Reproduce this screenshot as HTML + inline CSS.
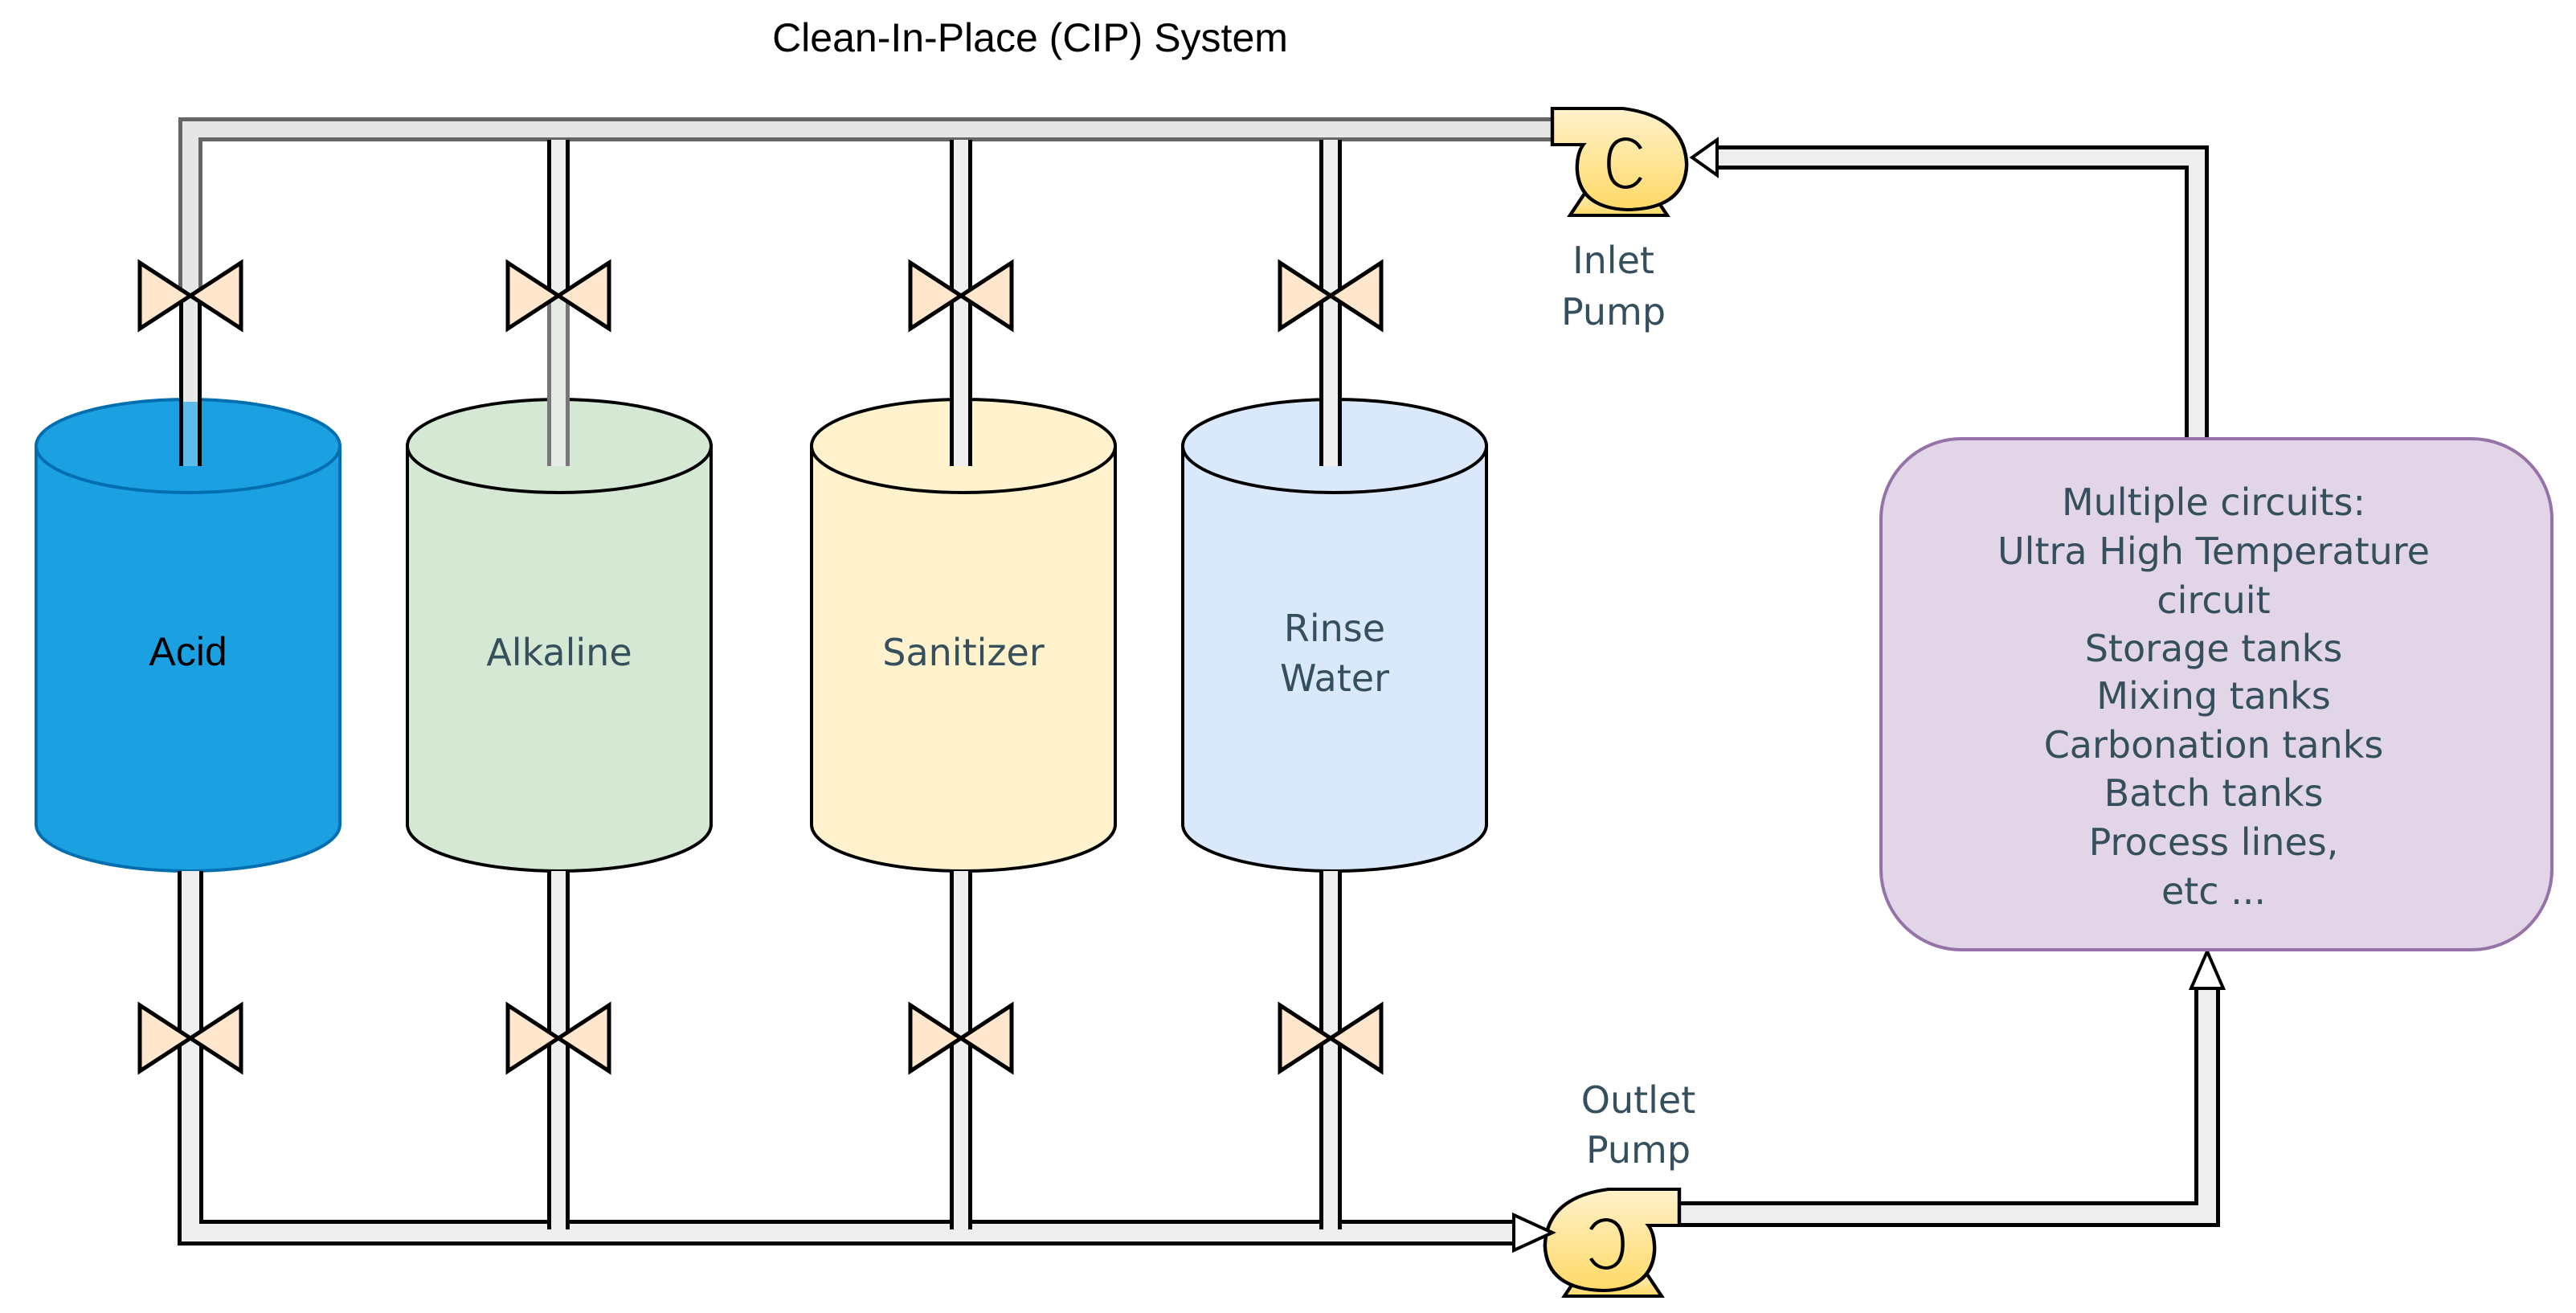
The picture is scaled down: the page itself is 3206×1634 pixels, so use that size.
<!DOCTYPE html>
<html><head><meta charset="utf-8"><style>html,body{margin:0;padding:0;background:#fff;}svg{display:block}</style></head>
<body>
<svg width="3206" height="1634" viewBox="0 0 3206 1634" xmlns="http://www.w3.org/2000/svg">
<defs>
<linearGradient id="pg" x1="0" y1="0" x2="0" y2="1"><stop offset="0" stop-color="#fff2cc"/><stop offset="1" stop-color="#ffd966"/></linearGradient>
<g id="valve"><polygon points="-63,-41 0,0 -63,41" fill="#ffe6cc" stroke="#000" stroke-width="5"/><polygon points="63,-41 0,0 63,41" fill="#ffe6cc" stroke="#000" stroke-width="5"/></g>
<g id="pump">
<path d="M110,100 L130,133 L20,133 L40,100 Z" fill="url(#pg)" stroke="#000" stroke-width="4"/>
<path d="M0,0 L80,0 Q150,10 152,70 Q150,125 85,126 Q30,124 28,75 Q28,55 35,45 L0,45 Z" fill="url(#pg)" stroke="#000" stroke-width="4"/>
<path d="M100,50 Q94,38 82,38 Q64,40 64,68 Q64,96 82,98 Q94,98 100,86" fill="none" stroke="#000" stroke-width="4"/>
</g>
</defs>
<text x="1282" y="64" font-family="Liberation Sans, sans-serif" font-size="50" text-anchor="middle" fill="#000">Clean-In-Place (CIP) System</text>

<g stroke-width="4">
<path d="M45,555 L45,1026 A189,58 0 0 0 423,1026 L423,555 Z" fill="#1ba1e2" stroke="#006eaf"/>
<ellipse cx="234" cy="555" rx="189" ry="58" fill="#1ba1e2" stroke="#006eaf"/>
<path d="M507,555 L507,1026 A189,58 0 0 0 885,1026 L885,555 Z" fill="#d5e8d4" stroke="#000"/>
<ellipse cx="696" cy="555" rx="189" ry="58" fill="#d5e8d4" stroke="#000"/>
<path d="M1010,555 L1010,1026 A189,58 0 0 0 1388,1026 L1388,555 Z" fill="#fff2cc" stroke="#000"/>
<ellipse cx="1199" cy="555" rx="189" ry="58" fill="#fff2cc" stroke="#000"/>
<path d="M1472,555 L1472,1026 A189,58 0 0 0 1850,1026 L1850,555 Z" fill="#dae8fc" stroke="#000"/>
<ellipse cx="1661" cy="555" rx="189" ry="58" fill="#dae8fc" stroke="#000"/>
</g>

<path d="M237,370 L237,161 L1940,161" fill="none" stroke="#666" stroke-width="30"/>
<path d="M237,370 L237,161 L1940,161" fill="none" stroke="#e6e6e6" stroke-width="20"/>
<g fill="none">
<path d="M237,368 L237,580" stroke="#000" stroke-width="28"/><path d="M237,368 L237,580" stroke="#e8e8e8" stroke-width="18"/>
<path d="M237,500 L237,580" stroke="#5cbbe9" stroke-width="18"/>
<path d="M695,174 L695,370" stroke="#000" stroke-width="28"/><path d="M695,174 L695,370" stroke="#eee" stroke-width="18"/>
<path d="M695,368 L695,580" stroke="#777" stroke-width="28"/><path d="M695,368 L695,580" stroke="#e6ece5" stroke-width="18"/>
<path d="M1196,174 L1196,580" stroke="#000" stroke-width="28"/><path d="M1196,174 L1196,580" stroke="#eee" stroke-width="18"/>
<path d="M1656,174 L1656,580" stroke="#000" stroke-width="28"/><path d="M1656,174 L1656,580" stroke="#eee" stroke-width="18"/>
</g>
<g fill="none">
<path d="M237,1084 L237,1534 L1885,1534" stroke="#000" stroke-width="32"/>
<path d="M237,1084 L237,1534 L1885,1534" stroke="#eee" stroke-width="22"/>
<path d="M695,1084 L695,1530" stroke="#000" stroke-width="28"/><path d="M695,1084 L695,1534" stroke="#eee" stroke-width="18"/>
<path d="M1196,1084 L1196,1530" stroke="#000" stroke-width="28"/><path d="M1196,1084 L1196,1534" stroke="#eee" stroke-width="18"/>
<path d="M1656,1084 L1656,1530" stroke="#000" stroke-width="28"/><path d="M1656,1084 L1656,1534" stroke="#eee" stroke-width="18"/>
<path d="M2070,1511 L2747,1511 L2747,1228" stroke="#000" stroke-width="32"/>
<path d="M2070,1511 L2747,1511 L2747,1228" stroke="#eee" stroke-width="22"/>
<path d="M2734,548 L2734,196 L2135,196" stroke="#000" stroke-width="30"/>
<path d="M2734,548 L2734,196 L2135,196" stroke="#eee" stroke-width="20"/>
</g>

<use href="#valve" x="237" y="368"/><use href="#valve" x="695" y="368"/><use href="#valve" x="1196" y="368"/><use href="#valve" x="1656" y="368"/>
<use href="#valve" x="237" y="1292"/><use href="#valve" x="695" y="1292"/><use href="#valve" x="1196" y="1292"/><use href="#valve" x="1656" y="1292"/>

<use href="#pump" transform="translate(1932,135) scale(1.1,1)"/>
<use href="#pump" transform="translate(2090,1480) scale(-1.1,1)"/>
<polygon points="2106,196 2137,174 2137,218" fill="#fff" stroke="#000" stroke-width="4"/>
<polygon points="1932,1534 1884,1512 1884,1556" fill="#fff" stroke="#000" stroke-width="4"/>
<polygon points="2747,1184 2727,1230 2767,1230" fill="#fff" stroke="#000" stroke-width="4"/>

<rect x="2341" y="546" width="835" height="636" rx="100" ry="100" fill="#e1d5e7" stroke="#9673a6" stroke-width="4"/>

<g font-family="DejaVu Sans, sans-serif" font-size="46" fill="#354f5c" text-anchor="middle">
<text x="234" y="828" font-family="Liberation Sans, sans-serif" font-size="50" fill="#000">Acid</text>
<text x="696" y="828">Alkaline</text>
<text x="1199" y="828">Sanitizer</text>
<text x="1661" y="798">Rinse</text>
<text x="1661" y="860">Water</text>
<text x="2008" y="340">Inlet</text>
<text x="2008" y="404">Pump</text>
<text x="2039" y="1385">Outlet</text>
<text x="2039" y="1447">Pump</text>
<text x="2755" y="641">Multiple circuits:</text>
<text x="2755" y="702">Ultra High Temperature</text>
<text x="2755" y="763">circuit</text>
<text x="2755" y="823">Storage tanks</text>
<text x="2755" y="882">Mixing tanks</text>
<text x="2755" y="943">Carbonation tanks</text>
<text x="2755" y="1003">Batch tanks</text>
<text x="2755" y="1064">Process lines,</text>
<text x="2755" y="1125">etc ...</text>
</g>
</svg>
</body></html>
